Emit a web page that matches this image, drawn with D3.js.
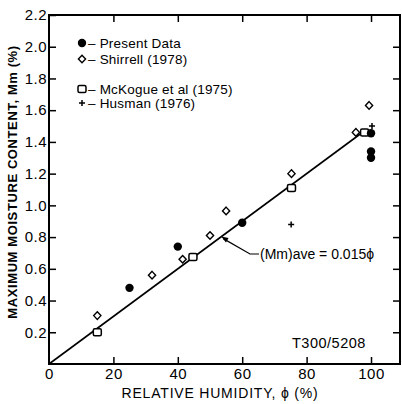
<!DOCTYPE html>
<html><head><meta charset="utf-8">
<script src="https://cdn.jsdelivr.net/npm/d3@7/dist/d3.min.js"></script>
<style>body{margin:0;background:#fff}svg{display:block}text{font-family:"Liberation Sans",Arial,sans-serif;fill:#000}</style>
</head><body><svg id="c" width="402" height="404"></svg>
<script>
const xTicks = [0, 20, 40, 60, 80, 100];
const yTicks = [0.2, 0.4, 0.6, 0.8, 1.0, 1.2, 1.4, 1.6, 1.8, 2.0, 2.2];
const presentData = [[25, 0.48], [40, 0.74], [60, 0.89], [100, 1.455], [100, 1.34], [100, 1.30]];
const shirrell = [[15, 0.305], [32, 0.56], [41.5, 0.66], [50, 0.81], [55, 0.965], [75.3, 1.2], [95.3, 1.46], [99.4, 1.63]];
const mckogue = [[15, 0.2], [44.7, 0.675], [75.3, 1.11], [98, 1.46]];
const husman = [[75.2, 0.88], [100.3, 1.5]];
const fitLine = [[0, 0], [97.5, 1.4625]];
const legendLabels = ["Present Data", "Shirrell (1978)", "McKogue et al (1975)", "Husman (1976)"];

const svg = d3.select("#c");
const x = d3.scaleLinear([0, 109], [49, 400]);
const y = d3.scaleLinear([0, 2.2], [364, 15]);

// axes
const gl = svg.append("g").attr("transform", `translate(${x(0)},0)`)
  .call(d3.axisLeft(y).tickValues(yTicks).tickSize(-7).tickPadding(2).tickFormat(d3.format(".1f")));
const gb = svg.append("g").attr("transform", `translate(0,${y(0)})`)
  .call(d3.axisBottom(x).tickValues(xTicks).tickSize(-7).tickPadding(4));
const gt = svg.append("g").attr("transform", `translate(0,${y(2.2)})`)
  .call(d3.axisTop(x).tickValues(xTicks.slice(1)).tickSize(-7).tickFormat(""));
const gr = svg.append("g").attr("transform", `translate(${x(109)},0)`)
  .call(d3.axisRight(y).tickValues(yTicks.slice(0, 10)).tickSize(-7).tickFormat(""));
[gl, gb, gt, gr].forEach(g => {
  g.select(".domain").remove();
  g.selectAll(".tick line").attr("stroke", "#000").attr("stroke-width", 1.5);
  g.selectAll("text").attr("font-size", 15).attr("letter-spacing", 0.5).attr("font-family", "Liberation Sans, Arial, sans-serif");
});
gb.selectAll(".tick").filter(d => d === 0).select("line").remove();

// frame
svg.append("rect").attr("x", x(0)).attr("y", y(2.2)).attr("width", x(109) - x(0)).attr("height", y(0) - y(2.2))
  .attr("fill", "none").attr("stroke", "#000").attr("stroke-width", 2);

// fit line
svg.append("path").attr("d", d3.line().x(d => x(d[0])).y(d => y(d[1]))(fitLine))
  .attr("stroke", "#000").attr("stroke-width", 1.6).attr("fill", "none");

// markers
function diamond(g, px, py) {
  g.append("path").attr("d", `M${px},${py - 3.8}L${px + 3.6},${py}L${px},${py + 3.8}L${px - 3.6},${py}Z`)
    .attr("fill", "#fff").attr("stroke", "#000").attr("stroke-width", 1.4);
}
function square(g, px, py) {
  g.append("rect").attr("x", px - 4).attr("y", py - 3.5).attr("width", 8).attr("height", 7).attr("rx", 1.5)
    .attr("fill", "#fff").attr("stroke", "#000").attr("stroke-width", 1.5);
}
function plus(g, px, py) {
  g.append("path").attr("d", `M${px - 3},${py}H${px + 3}M${px},${py - 3}V${py + 3}`)
    .attr("stroke", "#000").attr("stroke-width", 1.5);
}
function dot(g, px, py) {
  g.append("circle").attr("cx", px).attr("cy", py).attr("r", 4.2).attr("fill", "#000");
}
const gm = svg.append("g");
shirrell.forEach(d => diamond(gm, x(d[0]), y(d[1])));
mckogue.forEach(d => square(gm, x(d[0]), y(d[1])));
presentData.forEach(d => dot(gm, x(d[0]), y(d[1])));
husman.forEach(d => plus(gm, x(d[0]), y(d[1])));

// legend
const legY = [43, 59, 89, 103];
const markers = [dot, diamond, square, plus];
legendLabels.forEach((t, i) => {
  markers[i](svg, 82, legY[i]);
  svg.append("text").attr("x", 88).attr("y", legY[i]).attr("dy", "0.35em").attr("font-size", 13.5)
    .attr("letter-spacing", 0.2).text("\u2013 " + t);
});

// annotation
const tip = [x(53.5), y(0.803)];
svg.append("path").attr("d", `M${tip[0] + 2},${tip[1] + 2}L${250},${254}H${259}`)
  .attr("stroke", "#000").attr("stroke-width", 1.2).attr("fill", "none");
const ang = Math.atan2(254 - tip[1], 250 - tip[0]);
const ah = 7, aw = 2.5;
const bx = tip[0] + Math.cos(ang) * ah, by = tip[1] + Math.sin(ang) * ah;
svg.append("path").attr("d", `M${tip[0]},${tip[1]}L${bx - Math.sin(ang) * aw},${by + Math.cos(ang) * aw}L${bx + Math.sin(ang) * aw},${by - Math.cos(ang) * aw}Z`)
  .attr("fill", "#000");
svg.append("text").attr("x", 260).attr("y", 254).attr("dy", "0.35em").attr("font-size", 14)
  .text("(Mm)ave = 0.015\u03D5");

svg.append("text").attr("x", 292).attr("y", 348).attr("font-size", 14.5).attr("letter-spacing", 0.5).text("T300/5208");

// axis titles
svg.append("text").attr("x", 220).attr("y", 398).attr("text-anchor", "middle").attr("font-size", 14)
  .attr("letter-spacing", 0.8).text("RELATIVE HUMIDITY, \u03D5 (%)");
svg.append("text").attr("transform", "translate(17,182) rotate(-90)").attr("text-anchor", "middle")
  .attr("font-size", 13).attr("font-weight", "bold").attr("letter-spacing", 0.6).text("MAXIMUM MOISTURE CONTENT, Mm (%)");
</script></body></html>
